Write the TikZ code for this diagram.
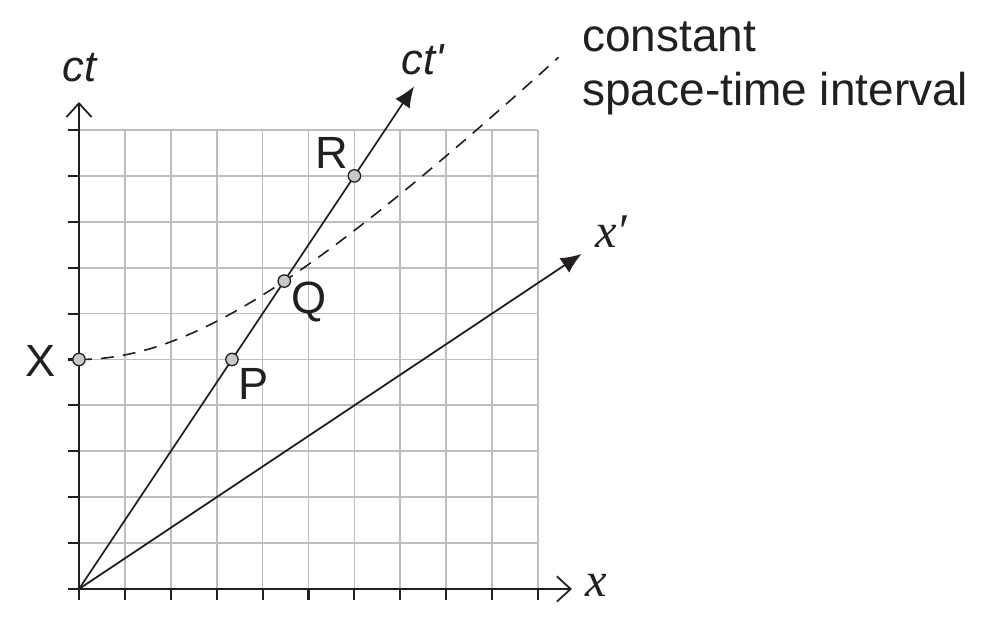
\documentclass[tikz,border=0pt]{standalone}
\usepackage{fontspec}
\setmainfont{Liberation Sans}
\newfontfamily\timesit{Liberation Serif}[ItalicFont={Liberation Serif Italic}]
\usetikzlibrary{arrows.meta}

\definecolor{inkgray}{RGB}{35,31,32}
\definecolor{gridgray}{RGB}{190,190,190}
\definecolor{eventgray}{RGB}{200,200,200}

\tikzset{
  grid line/.style={draw=gridgray, line width=1.1pt},
  axis line/.style={draw=inkgray, line width=1.3pt},
  axis/.style={axis line, -{Straight Barb[length=0.3cm,width=0.55cm,line width=1.1pt]}},
  frame axis/.style={draw=inkgray, line width=1.1pt, -{Latex[length=0.45cm,width=0.38cm]}},
  event/.style={circle, draw=inkgray, fill=eventgray, line width=0.8pt, inner sep=0pt, minimum size=0.27cm},
  lbl/.style={inner sep=0pt, text=inkgray, font=\fontsize{28}{33}\selectfont},
  italic lbl/.style={lbl, font=\fontsize{27}{32}\selectfont\itshape},
  serif lbl/.style={inner sep=0pt, text=inkgray, font=\fontsize{30}{36}\selectfont\timesit\itshape},
  note/.style={lbl, font=\fontsize{28.5}{34}\selectfont},
}

\begin{document}
\begin{tikzpicture}[x=1cm,y=1cm]
\useasboundingbox (-1.721,-0.806) rectangle (19.739,12.832);
% grid and ticks
\draw[grid line] (0,0) grid (10,10);
\foreach \i in {0,...,10} {
  \draw[axis line] (\i,0) -- (\i,-0.24);
  \draw[axis line] (0,\i) -- (-0.24,\i);
}
\coordinate (O) at (0,0);
\coordinate (ctend) at (0,10.61);
\coordinate (xend) at (10.74,0);
\coordinate (ctpend) at (7.3,10.95);
\coordinate (xpend) at (10.95,7.3);
% hyperbola
\draw[inkgray, line width=1pt, dash pattern=on 0.28cm off 0.2cm] plot[domain=0:10.45, samples=80] (\x,{sqrt(25+\x*\x)});
% frames
\draw[frame axis] (O) -- (ctpend);
\draw[frame axis] (O) -- (xpend);
\draw[axis] (O) -- (ctend);
\draw[axis] (O) -- (xend);
% events
\node[event] (X) at (0,5) {};
\node[event] (P) at (3.333,5) {};
\node[event] (Q) at (4.472,6.708) {};
\node[event] (R) at (6,9) {};
\node[lbl, anchor=base] (Xl) at (-0.83,4.62) {X};
\node[lbl, anchor=base] (Pl) at (3.81,4.12) {P};
\node[lbl, anchor=base] (Ql) at (5.02,6.01) {Q};
\node[lbl, anchor=base] (Rl) at (5.51,9.17) {R};
% axis labels
\node[italic lbl, anchor=base west] (ctl) at (-0.37,11.05) {ct};
\node[italic lbl, anchor=base west] (ctpl) at (7.02,11.20) {ct\textquotesingle};
\node[serif lbl, anchor=base] (xl) at (11.27,-0.17) {x};
\node[serif lbl, anchor=base west] (xpl) at (11.24,7.43) {x′};
\node[note, anchor=base west] (const1) at (10.96,11.70) {constant};
\node[note, anchor=base west] (const2) at (10.96,10.54) {space-time interval};
\end{tikzpicture}
\end{document}
